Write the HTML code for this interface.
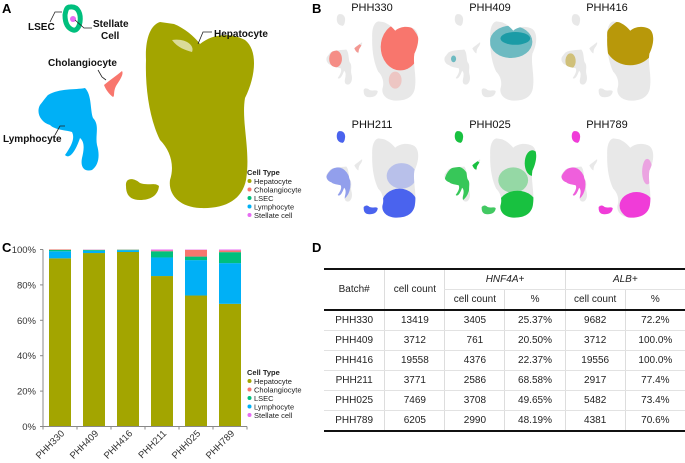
<!DOCTYPE html>
<html><head><meta charset="utf-8">
<style>
html,body{margin:0;padding:0;background:#fff;}
body{width:685px;height:463px;position:relative;overflow:hidden;font-family:"Liberation Sans",Arial,sans-serif;}
svg{position:absolute;left:0;top:0;}
table{position:absolute;left:324px;top:268px;border-collapse:collapse;font-size:10px;color:#222;}
td{height:19px;text-align:center;padding:0;border-left:1px solid #ddd;border-bottom:1px solid #e2e2e2;}
td:first-child{border-left:none;}
.hd td{height:19px;}
</style></head>
<body>
<svg width="685" height="463" viewBox="0 0 685 463">
<defs>
  <clipPath id="cellclip">
    <path d="M160,22 C150,25 145,40 146,60 C145,90 150,120 160,140 C170,150 175,165 170,180 C168,195 180,207 200,208 C225,209 242,200 246,180 C251,150 241,122 245,98 C256,76 258,50 245,40 C230,32 212,34 200,44 C194,36 184,28 174,24 Z"/>
    <path d="M126,186 C125,178 133,177 140,183 C148,186 155,182 159,186 C158,196 150,200 140,200 C130,200 126,195 126,186 Z"/>
    <path d="M48,95 C60,88 75,90 85,88 C92,95 90,110 93,118 C100,125 95,135 97,145 C100,155 99,165 92,170 C85,172 80,168 82,158 C84,150 85,142 80,138 C76,150 70,160 65,155 C72,145 75,138 72,132 C65,130 55,130 50,125 C40,122 36,112 40,105 C44,100 46,97 48,95 Z"/>
    <path d="M70,5 C80,4 84,14 82,22 C81,30 78,34 74,32 C66,30 62,24 63,14 C64,8 66,5 70,5 Z"/>
    <path d="M104,85 C110,80 116,76 122,71 C124,74 120,80 116,86 C113,92 115,96 113,97 C109,94 106,90 104,85 Z"/>
  </clipPath>
  <g id="base">
    <path d="M160,22 C150,25 145,40 146,60 C145,90 150,120 160,140 C170,150 175,165 170,180 C168,195 180,207 200,208 C225,209 242,200 246,180 C251,150 241,122 245,98 C256,76 258,50 245,40 C230,32 212,34 200,44 C194,36 184,28 174,24 Z"/>
    <path d="M126,186 C125,178 133,177 140,183 C148,186 155,182 159,186 C158,196 150,200 140,200 C130,200 126,195 126,186 Z"/>
    <path d="M48,95 C60,88 75,90 85,88 C92,95 90,110 93,118 C100,125 95,135 97,145 C100,155 99,165 92,170 C85,172 80,168 82,158 C84,150 85,142 80,138 C76,150 70,160 65,155 C72,145 75,138 72,132 C65,130 55,130 50,125 C40,122 36,112 40,105 C44,100 46,97 48,95 Z"/>
    <path d="M70,5 C80,4 84,14 82,22 C81,30 78,34 74,32 C66,30 62,24 63,14 C64,8 66,5 70,5 Z"/>
    <path d="M104,85 C110,80 116,76 122,71 C124,74 120,80 116,86 C113,92 115,96 113,97 C109,94 106,90 104,85 Z"/>
  </g>
</defs>

<!-- Panel A -->
<g>
  <text x="2" y="13" font-size="13" font-weight="bold">A</text>
  <path fill="#a3a500" d="M160,22 C150,25 145,40 146,60 C145,90 150,120 160,140 C170,150 175,165 170,180 C168,195 180,207 200,208 C225,209 242,200 246,180 C251,150 241,122 245,98 C256,76 258,50 245,40 C230,32 212,34 200,44 C194,36 184,28 174,24 Z"/>
  <path fill="#fff" opacity="0.6" d="M172,40 C185,38 195,45 192,52 C185,50 178,48 172,40 Z"/>
  <path fill="#a3a500" d="M126,186 C125,178 133,177 140,183 C148,186 155,182 159,186 C158,196 150,200 140,200 C130,200 126,195 126,186 Z"/>
  <path fill="#00b0f6" d="M48,95 C60,88 75,90 85,88 C92,95 90,110 93,118 C100,125 95,135 97,145 C100,155 99,165 92,170 C85,172 80,168 82,158 C84,150 85,142 80,138 C76,150 70,160 65,155 C72,145 75,138 72,132 C65,130 55,130 50,125 C40,122 36,112 40,105 C44,100 46,97 48,95 Z"/>
  <path fill="none" stroke="#00bf7d" stroke-width="5" d="M70,7 C79,6 81,15 80,22 C79,28 76,31 73,30 C67,28 65,22 65,15 C66,9 67,7 70,7 Z"/>
  <circle cx="73" cy="19" r="3" fill="#e76bf3"/>
  <path fill="#f8766d" d="M104,85 C110,80 116,76 122,71 C124,74 120,80 116,86 C113,92 115,96 113,97 C109,94 106,90 104,85 Z"/>
  <g font-size="10" font-weight="bold" fill="#111">
    <text x="28" y="30">LSEC</text>
    <text x="93" y="27">Stellate</text>
    <text x="101" y="39">Cell</text>
    <text x="48" y="66">Cholangiocyte</text>
    <text x="3" y="142">Lymphocyte</text>
    <text x="214" y="37">Hepatocyte</text>
  </g>
  <g stroke="#222" stroke-width="0.8" fill="none">
    <polyline points="50,22 55,12 62,12"/>
    <polyline points="75,20 84,28 92,28"/>
    <polyline points="98,70 102,77 106,80"/>
    <polyline points="55,135 60,126 65,126"/>
    <polyline points="198,44 203,32 212,32"/>
  </g>
  <g font-size="7.5" fill="#222">
    <text x="247" y="175" font-weight="bold">Cell Type</text>
    <circle cx="249.5" cy="181" r="2" fill="#a3a500"/><text x="254" y="184">Hepatocyte</text>
    <circle cx="249.5" cy="189.5" r="2" fill="#f8766d"/><text x="254" y="192.5">Cholangiocyte</text>
    <circle cx="249.5" cy="198" r="2" fill="#00bf7d"/><text x="254" y="201">LSEC</text>
    <circle cx="249.5" cy="206.5" r="2" fill="#00b0f6"/><text x="254" y="209.5">Lymphocyte</text>
    <circle cx="249.5" cy="215" r="2" fill="#e76bf3"/><text x="254" y="218">Stellate cell</text>
  </g>
</g>

<!-- Panel B -->
<text x="312" y="13" font-size="13" font-weight="bold">B</text>
<g font-size="11" fill="#111" text-anchor="middle">
  <text x="372" y="11">PHH330</text>
  <text x="490" y="11">PHH409</text>
  <text x="607" y="11">PHH416</text>
  <text x="372" y="128">PHH211</text>
  <text x="490" y="128">PHH025</text>
  <text x="607" y="128">PHH789</text>
</g>
<g transform="translate(310,12) scale(0.426)">
  <use href="#base" fill="#e8e8e8"/>
  <g clip-path="url(#cellclip)" fill="#f8766d">
    <ellipse cx="212" cy="82" rx="46" ry="55"/><ellipse cx="60" cy="110" rx="15" ry="20" opacity="0.8"/>
    <ellipse cx="113" cy="85" rx="10" ry="10" opacity="0.7"/><ellipse cx="200" cy="160" rx="15" ry="20" opacity="0.3"/>
  </g>
</g>
<g transform="translate(428,12) scale(0.426)">
  <use href="#base" fill="#e8e8e8"/>
  <g clip-path="url(#cellclip)" fill="#1b9ba6">
    <ellipse cx="195" cy="70" rx="50" ry="38" opacity="0.6"/><ellipse cx="205" cy="62" rx="35" ry="15"/>
    <ellipse cx="60" cy="110" rx="6" ry="8" opacity="0.6"/>
  </g>
</g>
<g transform="translate(545,12) scale(0.426)">
  <use href="#base" fill="#e8e8e8"/>
  <g clip-path="url(#cellclip)" fill="#b8980a">
    <ellipse cx="200" cy="70" rx="60" ry="55"/><ellipse cx="60" cy="115" rx="12" ry="18" opacity="0.5"/>
  </g>
</g>
<g transform="translate(310,129) scale(0.426)">
  <use href="#base" fill="#e8e8e8"/>
  <g clip-path="url(#cellclip)" fill="#4a63ee">
    <ellipse cx="210" cy="178" rx="42" ry="38"/><ellipse cx="215" cy="110" rx="35" ry="30" opacity="0.3"/>
    <ellipse cx="142" cy="190" rx="20" ry="12"/><ellipse cx="65" cy="130" rx="30" ry="40" opacity="0.55"/>
    <ellipse cx="72" cy="18" rx="12" ry="16"/>
  </g>
</g>
<g transform="translate(428,129) scale(0.426)">
  <use href="#base" fill="#e8e8e8"/>
  <g clip-path="url(#cellclip)" fill="#18c140">
    <ellipse cx="210" cy="180" rx="45" ry="35"/><ellipse cx="245" cy="80" rx="18" ry="30"/>
    <ellipse cx="200" cy="120" rx="35" ry="30" opacity="0.4"/><ellipse cx="142" cy="190" rx="20" ry="12" opacity="0.8"/>
    <ellipse cx="68" cy="130" rx="30" ry="42" opacity="0.85"/><ellipse cx="72" cy="18" rx="12" ry="16"/>
    <ellipse cx="113" cy="85" rx="10" ry="10"/>
  </g>
</g>
<g transform="translate(545,129) scale(0.426)">
  <use href="#base" fill="#e8e8e8"/>
  <g clip-path="url(#cellclip)" fill="#f03cd8">
    <ellipse cx="215" cy="180" rx="40" ry="32"/><ellipse cx="240" cy="100" rx="12" ry="30" opacity="0.4"/>
    <ellipse cx="142" cy="190" rx="20" ry="12"/><ellipse cx="65" cy="130" rx="30" ry="40" opacity="0.8"/>
    <ellipse cx="72" cy="18" rx="12" ry="16"/>
  </g>
</g>

<!-- Panel C -->
<text x="2" y="252" font-size="13" font-weight="bold">C</text>
<g id="chartC"></g>

<text x="312" y="252" font-size="13" font-weight="bold">D</text>
</svg>

<table>
<tr class="hd" style="border-top:2px solid #111;">
  <td rowspan="2" style="width:61px;height:39px">Batch#</td>
  <td rowspan="2" style="width:60px">cell count</td>
  <td colspan="2" style="font-style:italic">HNF4A+</td>
  <td colspan="2" style="font-style:italic">ALB+</td>
</tr>
<tr class="hd" style="border-bottom:2px solid #111;">
  <td style="width:60px;border-left:1px solid #ddd">cell count</td><td style="width:60px">%</td>
  <td style="width:60px">cell count</td><td style="width:60px">%</td>
</tr>
<tr><td>PHH330</td><td>13419</td><td>3405</td><td>25.37%</td><td>9682</td><td>72.2%</td></tr>
<tr><td>PHH409</td><td>3712</td><td>761</td><td>20.50%</td><td>3712</td><td>100.0%</td></tr>
<tr><td>PHH416</td><td>19558</td><td>4376</td><td>22.37%</td><td>19556</td><td>100.0%</td></tr>
<tr><td>PHH211</td><td>3771</td><td>2586</td><td>68.58%</td><td>2917</td><td>77.4%</td></tr>
<tr><td>PHH025</td><td>7469</td><td>3708</td><td>49.65%</td><td>5482</td><td>73.4%</td></tr>
<tr style="border-bottom:2px solid #111;"><td>PHH789</td><td>6205</td><td>2990</td><td>48.19%</td><td>4381</td><td>70.6%</td></tr>
</table>

<script>
const categories = ["PHH330","PHH409","PHH416","PHH211","PHH025","PHH789"];
const hepatocyte = [95, 98, 98.6, 85, 74, 69.3];
const lymphocyte = [4, 1.3, 1, 10.5, 20, 23];
const lsec = [0.8, 0.5, 0.3, 3.5, 2, 6.2];
const cholangiocyte = [0.3, 0.1, 0.1, 0.4, 3.8, 1];
const stellate = [0, 0.1, 0, 0.6, 0.2, 0.5];
const yTicks = [0, 20, 40, 60, 80, 100];
const seriesNames = ["Hepatocyte","Cholangiocyte","LSEC","Lymphocyte","Stellate cell"];

const NS = "http://www.w3.org/2000/svg";
const g = document.getElementById("chartC");
const x0 = 43, x1 = 247, y0 = 426.5, y1 = 249.5, step = 34, bw = 22;
const yS = v => y0 - (v / 100) * (y0 - y1);
const xS = i => x0 + 17 + i * step;
function mk(tag, attrs) { const e = document.createElementNS(NS, tag); for (const k in attrs) e.setAttribute(k, attrs[k]); g.appendChild(e); return e; }

yTicks.forEach(t => {
  const lab = mk("text", {x: 36, y: yS(t) + 3.5, "font-size": 9.5, "text-anchor": "end", fill: "#333"});
  lab.textContent = t + "%";
  
  
  mk("line", {x1: x0 - 3, x2: x0, y1: yS(t), y2: yS(t), stroke: "#888"});
});

const stackOrder = [[hepatocyte, "#a3a500", "hepatocyte"], [lymphocyte, "#00b0f6", "lymphocyte"], [lsec, "#00bf7d", "lsec"], [cholangiocyte, "#f8766d", "cholangiocyte"], [stellate, "#e76bf3", "stellate"]];
categories.forEach((c, i) => {
  let acc = 0;
  stackOrder.forEach(([arr, col, nm]) => {
    const v = arr[i];
    const r = mk("rect", {x: xS(i) - bw / 2, y: yS(acc + v), width: bw, height: Math.max(0, yS(acc) - yS(acc + v)), fill: col});
    
    
    acc += v;
  });
  const lab = mk("text", {x: xS(i) + 5, y: 434, "font-size": 9.5, "text-anchor": "end", fill: "#333", transform: `rotate(-45 ${xS(i) + 5} 434)`});
  lab.textContent = c;
  
  
});
for (let i = 0; i <= categories.length; i++) mk("line", {x1: x0 + i * step, x2: x0 + i * step, y1: y0, y2: y0 + 3, stroke: "#888"});
const ya = mk("line", {x1: x0, x2: x0, y1: y1, y2: y0, stroke: "#888"});


const xa = mk("line", {x1: x0, x2: x1, y1: y0, y2: y0, stroke: "#888"});



const legCols = ["#a3a500","#f8766d","#00bf7d","#00b0f6","#e76bf3"];
const lt = mk("text", {x: 247, y: 375, "font-size": 7.5, "font-weight": "bold", fill: "#222"});
lt.textContent = "Cell Type";


seriesNames.forEach((n, k) => {
  const yy = 381 + k * 8.5;
  mk("circle", {cx: 249.5, cy: yy, r: 2, fill: legCols[k]});
  const t = mk("text", {x: 254, y: yy + 3, "font-size": 7.5, fill: "#222"});
  t.textContent = n;
  
  
});
</script>
</body></html>
